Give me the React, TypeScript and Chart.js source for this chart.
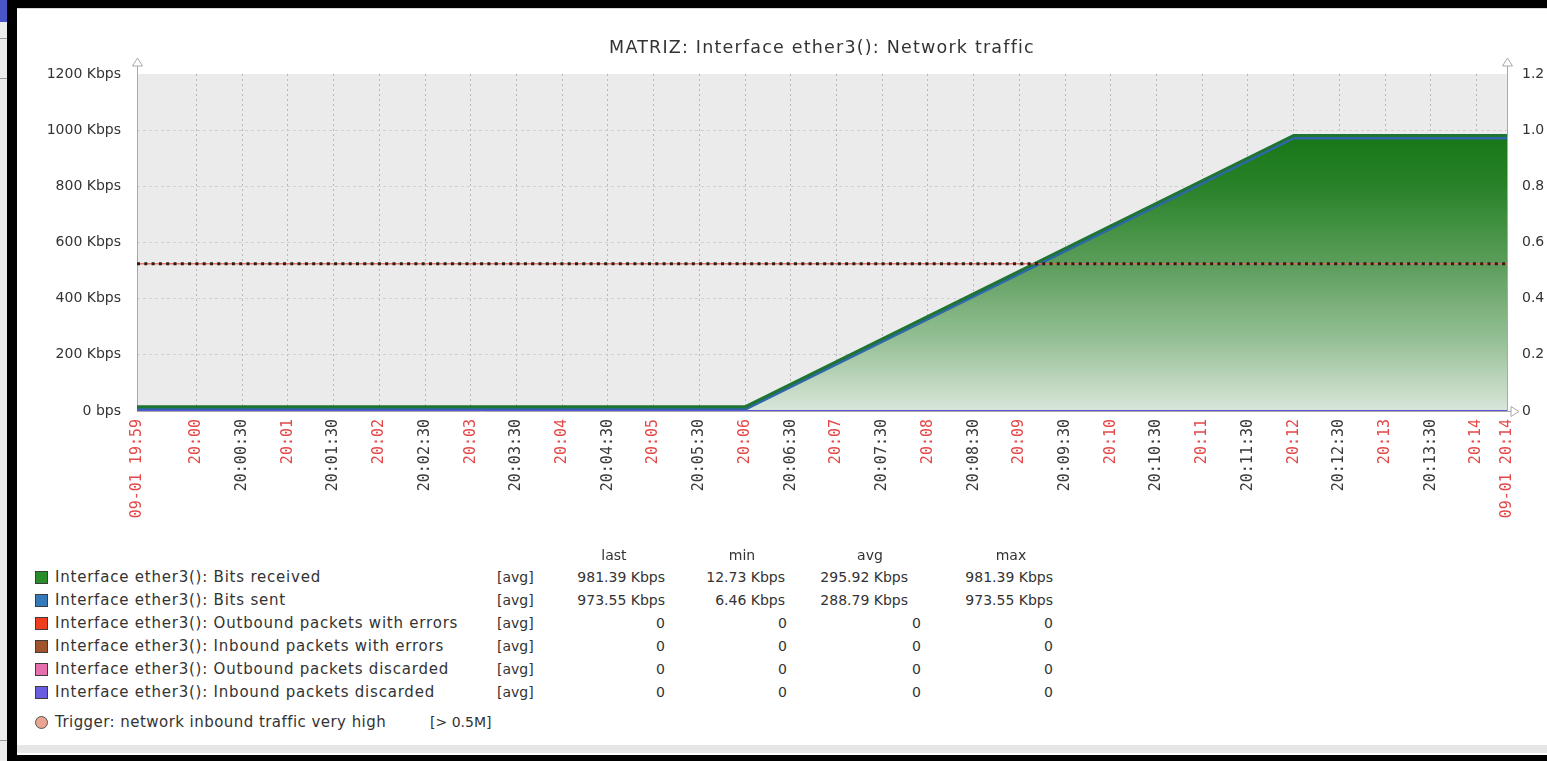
import React, { useEffect, useRef } from 'react';
import { Chart, registerables } from 'chart.js';

Chart.register(...registerables);

const GRAPH_TITLE = 'MATRIZ: Interface ether3(): Network traffic';

// sample times (HH:MM:SS) and values (Kbps)
const sampleTimes = ['19:59:21', '20:06:00', '20:12:00', '20:14:20'];
const bitsReceived = [15, 15, 981.39, 981.39];
const bitsSent = [7, 7, 973.55, 973.55];
const outboundErrors = [0, 0, 0, 0];
const inboundErrors = [0, 0, 0, 0];
const outboundDiscarded = [0, 0, 0, 0];
const inboundDiscarded = [0, 0, 0, 0];

const triggerTimes = ['19:59:21', '20:14:20'];
const triggerLevel = [524.288, 524.288];

const xTickTimes = [
  '19:59:21', '20:00:00', '20:00:30', '20:01:00', '20:01:30', '20:02:00', '20:02:30', '20:03:00',
  '20:03:30', '20:04:00', '20:04:30', '20:05:00', '20:05:30', '20:06:00', '20:06:30', '20:07:00',
  '20:07:30', '20:08:00', '20:08:30', '20:09:00', '20:09:30', '20:10:00', '20:10:30', '20:11:00',
  '20:11:30', '20:12:00', '20:12:30', '20:13:00', '20:13:30', '20:14:00', '20:14:20',
];
const xTickLabels = [
  '09-01 19:59', '20:00', '20:00:30', '20:01', '20:01:30', '20:02', '20:02:30', '20:03',
  '20:03:30', '20:04', '20:04:30', '20:05', '20:05:30', '20:06', '20:06:30', '20:07',
  '20:07:30', '20:08', '20:08:30', '20:09', '20:09:30', '20:10', '20:10:30', '20:11',
  '20:11:30', '20:12', '20:12:30', '20:13', '20:13:30', '20:14', '09-01 20:14',
];

const legendNames = [
  'Interface ether3(): Bits received',
  'Interface ether3(): Bits sent',
  'Interface ether3(): Outbound packets with errors',
  'Interface ether3(): Inbound packets with errors',
  'Interface ether3(): Outbound packets discarded',
  'Interface ether3(): Inbound packets discarded',
];
const legendColors = ['#2a8c2a', '#3579b8', '#ee3d1f', '#a0542e', '#e66fae', '#6a5ee0'];
const statLast = ['981.39 Kbps', '973.55 Kbps', '0', '0', '0', '0'];
const statMin = ['12.73 Kbps', '6.46 Kbps', '0', '0', '0', '0'];
const statAvg = ['295.92 Kbps', '288.79 Kbps', '0', '0', '0', '0'];
const statMax = ['981.39 Kbps', '973.55 Kbps', '0', '0', '0', '0'];
const statHeaders = ['last', 'min', 'avg', 'max'];
const triggerLabel = 'Trigger: network inbound traffic very high';
const triggerCond = '[> 0.5M]';

const toSec = (t: string) => {
  const [h, m, s] = t.split(':').map(Number);
  return h * 3600 + m * 60 + (s || 0);
};

const FONT = '"DejaVu Sans", sans-serif';
const TEXT = '#333333';

const CANVAS_LEFT = 17;
const CANVAS_TOP = 9;
const CANVAS_W = 1530;
const CANVAS_H = 540;

const plotBg = {
  id: 'plotBg',
  beforeDraw(chart: any) {
    const { ctx, chartArea } = chart;
    if (!chartArea) return;
    ctx.save();
    ctx.fillStyle = '#ebebeb';
    ctx.fillRect(chartArea.left, chartArea.top, chartArea.right - chartArea.left, chartArea.bottom - chartArea.top);
    ctx.restore();
  },
  beforeDatasetsDraw(chart: any) {
    const { ctx, chartArea } = chart;
    const { left, right, top, bottom } = chartArea;
    ctx.save();
    ctx.strokeStyle = '#a9a9a9';
    ctx.lineWidth = 1;
    ctx.beginPath();
    ctx.moveTo(left + 0.5, bottom);
    ctx.lineTo(left + 0.5, top - 12);
    ctx.moveTo(right + 0.5, bottom);
    ctx.lineTo(right + 0.5, top - 12);
    ctx.moveTo(left, bottom + 0.5);
    ctx.lineTo(right + 8, bottom + 0.5);
    ctx.stroke();
    ctx.fillStyle = '#ffffff';
    const arrowUp = (x: number) => {
      ctx.beginPath();
      ctx.moveTo(x + 0.5, top - 16);
      ctx.lineTo(x - 4.5, top - 8);
      ctx.lineTo(x + 5.5, top - 8);
      ctx.closePath();
      ctx.fill();
      ctx.stroke();
    };
    arrowUp(left);
    arrowUp(right);
    ctx.beginPath();
    ctx.moveTo(right + 12, bottom + 0.5);
    ctx.lineTo(right + 4, bottom - 4.5);
    ctx.lineTo(right + 4, bottom + 5.5);
    ctx.closePath();
    ctx.fill();
    ctx.stroke();
    ctx.restore();
  },
};

function ChartCanvas() {
  const ref = useRef<HTMLCanvasElement | null>(null);
  useEffect(() => {
    if (!ref.current) return;
    const pts = (vals: number[], times: string[]) => vals.map((v, i) => ({ x: toSec(times[i]), y: v }));
    const zeroLine = (label: string, vals: number[], color: string, order: number) => ({
      label,
      data: pts(vals, sampleTimes),
      borderColor: color,
      borderWidth: 2,
      pointRadius: 0,
      fill: false,
      yAxisID: 'y2',
      order,
    });
    const chart = new Chart(ref.current, {
      type: 'line',
      data: {
        datasets: [
          zeroLine(legendNames[5], inboundDiscarded, '#5a52dc', 0),
          {
            label: 'trigger-dots',
            data: pts(triggerLevel, triggerTimes),
            borderColor: '#2b1d18',
            borderWidth: 3,
            borderDash: [3, 4.3],
            pointRadius: 0,
            fill: false,
            yAxisID: 'y',
            order: 1,
          },
          {
            label: 'trigger-line',
            data: pts(triggerLevel, triggerTimes),
            borderColor: 'rgba(232,96,80,0.85)',
            borderWidth: 1.6,
            pointRadius: 0,
            fill: false,
            yAxisID: 'y',
            order: 2,
          },
          {
            label: legendNames[0],
            data: pts(bitsReceived, sampleTimes),
            borderColor: '#1e7431',
            borderWidth: 3,
            pointRadius: 0,
            fill: false,
            yAxisID: 'y',
            order: 3,
          },
          {
            label: legendNames[1],
            data: pts(bitsSent, sampleTimes),
            borderColor: '#2f67a8',
            borderWidth: 3.6,
            pointRadius: 0,
            fill: false,
            yAxisID: 'y',
            order: 4,
          },
          {
            label: legendNames[0] + ' (area)',
            data: pts(bitsReceived, sampleTimes),
            borderWidth: 0,
            borderColor: 'rgba(0,0,0,0)',
            pointRadius: 0,
            fill: 'origin',
            backgroundColor: (c: any) => {
              const ch = c.chart;
              if (!ch.chartArea) return 'rgba(40,130,40,0.5)';
              const y = ch.scales.y;
              const g = ch.ctx.createLinearGradient(0, y.getPixelForValue(1000), 0, y.getPixelForValue(0));
              g.addColorStop(0, 'rgb(22,118,22)');
              g.addColorStop(0.2, 'rgb(40,130,40)');
              g.addColorStop(0.5, 'rgb(96,160,96)');
              g.addColorStop(0.75, 'rgb(150,192,150)');
              g.addColorStop(1, 'rgb(218,230,218)');
              return g;
            },
            yAxisID: 'y',
            order: 9,
          },
          zeroLine(legendNames[4], outboundDiscarded, legendColors[4], 5),
          zeroLine(legendNames[3], inboundErrors, legendColors[3], 6),
          zeroLine(legendNames[2], outboundErrors, legendColors[2], 7),
        ],
      },
      options: {
        responsive: false,
        animation: false,
        layout: { padding: { top: 65, left: 0, right: 0, bottom: 0 } },
        plugins: {
          legend: { display: false },
          tooltip: { enabled: false },
          title: { display: false },
        },
        scales: {
          x: {
            type: 'linear',
            min: toSec(xTickTimes[0]),
            max: toSec(xTickTimes[xTickTimes.length - 1]),
            afterBuildTicks: (s: any) => {
              s.ticks = xTickTimes.map((t) => ({ value: toSec(t) }));
            },
            afterFit: (s: any) => {
              s.height = 138;
            },
            grid: {
              color: (c: any) =>
                c.index === 0 || c.index === xTickTimes.length - 1 ? 'rgba(0,0,0,0)' : 'rgba(150,150,150,0.6)',
              drawTicks: false,
              lineWidth: 1,
            },
            border: { display: false, dash: [2, 3] },
            ticks: {
              autoSkip: false,
              minRotation: 90,
              maxRotation: 90,
              padding: 8,
              font: { family: '"DejaVu Sans Mono", monospace', size: 15 },
              color: (c: any) => (xTickTimes[c.index] && xTickTimes[c.index].endsWith(':30') ? '#3a3a3a' : '#e44848'),
              callback: (_v: any, i: number) => xTickLabels[i],
            },
          },
          y: {
            position: 'left',
            min: 0,
            max: 1200,
            afterFit: (s: any) => {
              s.width = 120;
            },
            grid: {
              color: (c: any) =>
                c.tick && (c.tick.value === 0 || c.tick.value === 1200) ? 'rgba(0,0,0,0)' : 'rgba(205,205,205,0.9)',
              drawTicks: false,
            },
            border: { display: false, dash: [3, 3] },
            ticks: {
              stepSize: 200,
              padding: 16,
              color: TEXT,
              font: { family: FONT, size: 14 },
              callback: (v: any) => (Number(v) === 0 ? '0 bps' : `${v} Kbps`),
            },
          },
          y2: {
            position: 'right',
            min: 0,
            max: 1.2,
            afterFit: (s: any) => {
              s.width = 40;
            },
            grid: { display: false, drawTicks: false },
            border: { display: false },
            ticks: {
              stepSize: 0.2,
              padding: 15,
              color: TEXT,
              font: { family: FONT, size: 14 },
              callback: (v: any) => (Number(v) === 0 ? '0' : Number(v).toFixed(1)),
            },
          },
        },
      } as any,
      plugins: [plotBg],
    });
    return () => chart.destroy();
  }, []);
  return (
    <canvas
      ref={ref}
      width={CANVAS_W}
      height={CANVAS_H}
      style={{ position: 'absolute', left: CANVAS_LEFT, top: CANVAS_TOP, width: CANVAS_W, height: CANVAS_H }}
    />
  );
}

const rowY = [577, 600, 623, 646, 669, 692];
const colRight = [
  [665, 665, 665, 665, 665, 665],
  [785, 785, 787, 787, 787, 787],
  [908, 908, 921, 921, 921, 921],
  [1053, 1053, 1053, 1053, 1053, 1053],
];
const headerCenter = [614, 742, 870, 1011];

function Legend() {
  const txt = (
    content: string,
    x: number,
    y: number,
    align: 'left' | 'right' | 'center' = 'left',
    key?: any,
    spacing?: number,
  ) => {
    const style: any = {
      position: 'absolute',
      top: y - 9,
      height: 18,
      lineHeight: '18px',
      fontFamily: FONT,
      fontSize: spacing !== undefined ? 15 : 14,
      letterSpacing: spacing !== undefined ? `${spacing}px` : 'normal',
      color: TEXT,
      whiteSpace: 'nowrap',
    };
    if (align === 'left') style.left = x;
    else if (align === 'right') style.right = 1547 - x;
    else {
      style.left = x - 100;
      style.width = 200;
      style.textAlign = 'center';
    }
    return (
      <div key={key} style={style}>
        {content}
      </div>
    );
  };
  const stats = [statLast, statMin, statAvg, statMax];
  return (
    <>
      <div
        style={{
          position: 'absolute',
          left: 137,
          width: 1370,
          top: 36,
          height: 22,
          lineHeight: '22px',
          textAlign: 'center',
          fontFamily: FONT,
          fontSize: 17.5,
          letterSpacing: '1.2px',
          color: TEXT,
          whiteSpace: 'nowrap',
        }}
      >
        {GRAPH_TITLE}
      </div>
      {statHeaders.map((h, i) => txt(h, headerCenter[i], 555, 'center', 'h' + i))}
      {legendNames.map((n, i) => (
        <React.Fragment key={'r' + i}>
          <div
            style={{
              position: 'absolute',
              left: 35,
              top: rowY[i] - 6,
              width: 11,
              height: 11,
              background: legendColors[i],
              border: '1px solid #3c3c3c',
            }}
          />
          {txt(n, 55, rowY[i], 'left', 'n', 0.78)}
          {txt('[avg]', 497, rowY[i], 'left', 'a')}
          {stats.map((col, j) => txt(col[i], colRight[j][i], rowY[i], 'right', 's' + j))}
        </React.Fragment>
      ))}
      <div
        style={{
          position: 'absolute',
          left: 35,
          top: 716,
          width: 11,
          height: 11,
          borderRadius: '50%',
          background: '#eba491',
          border: '1px solid #555',
        }}
      />
      {txt(triggerLabel, 55, 722, 'left', 't', 0.45)}
      {txt(triggerCond, 430, 722, 'left', 'tc')}
    </>
  );
}

export default function App() {
  return (
    <div style={{ position: 'fixed', left: 0, top: 0, width: 1547, height: 761, background: '#000', overflow: 'hidden' }}>
      <div style={{ position: 'absolute', left: 0, top: 0, width: 7, height: 761, background: '#ececec' }} />
      <div style={{ position: 'absolute', left: 0, top: 0, width: 7, height: 22, background: '#4a55c8' }} />
      <div style={{ position: 'absolute', left: 0, top: 38, width: 7, height: 1, background: '#9a9a9a' }} />
      <div style={{ position: 'absolute', left: 0, top: 78, width: 7, height: 1, background: '#9a9a9a' }} />
      <div style={{ position: 'absolute', left: 0, top: 740, width: 7, height: 1, background: '#9a9a9a' }} />
      <div
        style={{
          position: 'absolute',
          left: 17,
          top: 8,
          width: 1530,
          height: 747,
          background: '#ffffff',
          borderTop: '1px solid #d8d8d8',
          boxSizing: 'border-box',
        }}
      />
      <div style={{ position: 'absolute', left: 17, top: 745, width: 1530, height: 8, background: '#e6e6e6' }} />
      <ChartCanvas />
      <Legend />
    </div>
  );
}
